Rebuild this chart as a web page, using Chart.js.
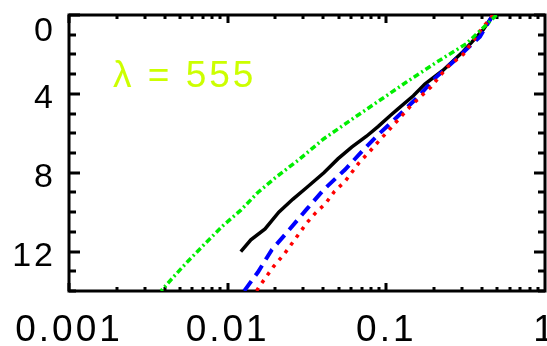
<!DOCTYPE html>
<html>
<head>
<meta charset="utf-8">
<script src="https://cdn.jsdelivr.net/npm/chart.js@4.4.1/dist/chart.umd.min.js"></script>
<style>
  html, body { margin: 0; padding: 0; background: #ffffff; }
  #wrap { width: 547px; height: 346px; }
</style>
</head>
<body>
<div id="wrap"><canvas id="c" width="547" height="346"></canvas></div>
<script>
// ---- data (x = value on log axis, y = depth, axis reversed) ----
const xTickValues = [0.001, 0.01, 0.1, 1];
const xTickLabels = ["0.001", "0.01", "0.1", "1"];
const yTickValues = [0, 4, 8, 12];
const yTickLabels = ["0", "4", "8", "12"];
const annotationText = "λ = 555";

const greenDepth = [0, 1.45, 2.4, 3.4, 4.3, 5.2, 6.3, 7.3, 8.25, 9.0, 9.9, 10.7, 11.55, 12.5, 13.25, 14];
const greenValue = [0.495, 0.32, 0.207, 0.134, 0.092, 0.063, 0.04, 0.0285, 0.02, 0.0155, 0.0121, 0.0093, 0.0073, 0.0056, 0.0046, 0.0038];

const blackDepth = [0, 0.75, 1.85, 2.8, 3.5, 4.1, 4.8, 5.1, 5.65, 6.15, 6.7, 7.3, 8.0, 8.75, 9.35, 10.0, 10.85, 11.4, 12.0];
const blackValue = [0.47, 0.408, 0.305, 0.228, 0.175, 0.148, 0.117, 0.106, 0.089, 0.075, 0.0605, 0.0495, 0.0404, 0.0315, 0.0257, 0.021, 0.0172, 0.014, 0.0121];

const blueDepth = [0, 1.1, 2.4, 3.15, 4.25, 5.2, 6.1, 6.9, 7.85, 8.85, 9.85, 10.9, 11.9, 13.05, 14];
const blueValue = [0.47, 0.389, 0.262, 0.206, 0.154, 0.116, 0.088, 0.0706, 0.0548, 0.0404, 0.0315, 0.0244, 0.019, 0.0155, 0.0127];

const redDepth = [0, 0.7, 2.0, 2.65, 3.65, 4.65, 5.65, 6.45, 6.9, 7.5, 8.45, 8.95, 9.55, 10.05, 10.55, 11.3, 12.15, 12.75, 13.25, 13.75, 14];
const redValue = [0.47, 0.40, 0.305, 0.242, 0.191, 0.141, 0.109, 0.0885, 0.079, 0.0672, 0.0548, 0.0471, 0.0415, 0.0357, 0.0315, 0.027, 0.0226, 0.0195, 0.0176, 0.0159, 0.0152];

function pts(xs, ys) { return xs.map((v, i) => ({ x: v, y: ys[i] })); }

const FONT = '"Liberation Sans", Arial, Helvetica, sans-serif';

const framePlugin = {
  id: 'idlFrame',
  beforeDatasetsDraw(chart) {
    const { ctx, chartArea: a, scales } = chart;
    const xs = scales.x, ys = scales.y;
    ctx.save();
    ctx.strokeStyle = '#000';
    ctx.lineWidth = 3;
    ctx.lineCap = 'butt';
    ctx.strokeRect(a.left, a.top, a.right - a.left, a.bottom - a.top);
    ctx.beginPath();
    for (let v = ys.min; v <= ys.max; v += 1) {
      const py = Math.round(ys.getPixelForValue(v));
      const len = (v % 4 === 0) ? 11 : 7;
      ctx.moveTo(a.left, py); ctx.lineTo(a.left + len, py);
      ctx.moveTo(a.right, py); ctx.lineTo(a.right - len, py);
    }
    for (let e = -3; e < 0; e++) {
      for (let k = 1; k <= 9; k++) {
        const v = k * Math.pow(10, e);
        const px = Math.round(xs.getPixelForValue(v));
        const len = (k === 1) ? 8 : 4;
        ctx.moveTo(px, a.bottom); ctx.lineTo(px, a.bottom - len);
        ctx.moveTo(px, a.top); ctx.lineTo(px, a.top + len);
      }
    }
    ctx.stroke();
    ctx.restore();
  },
  afterDraw(chart) {
    const { ctx, chartArea: a, scales } = chart;
    const xs = scales.x, ys = scales.y;
    ctx.save();
    ctx.fillStyle = '#000';
    ctx.font = '37px ' + FONT;
    ctx.letterSpacing = '3px';
    ctx.textAlign = 'center';
    ctx.textBaseline = 'alphabetic';
    xTickValues.forEach((v, i) => {
      const px = xs.getPixelForValue(v);
      ctx.fillText(xTickLabels[i], px, a.bottom + 50);
    });
    ctx.font = '34px ' + FONT;
    ctx.textAlign = 'right';
    const capH = 34 * 0.716;
    yTickValues.forEach((v, i) => {
      const py = ys.getPixelForValue(v);
      const base = Math.max(py + capH / 2 + 2, a.top + 2 + capH);
      ctx.fillText(yTickLabels[i], a.left - 13, base);
    });
    ctx.font = '37px ' + FONT;
    ctx.letterSpacing = '3px';
    ctx.textAlign = 'left';
    ctx.fillStyle = '#ccff00';
    ctx.fillText(annotationText, a.left + 44, a.top + 72);
    ctx.restore();
  }
};

new Chart(document.getElementById('c'), {
  type: 'scatter',
  data: {
    datasets: [
      { label: 'green', data: pts(greenValue, greenDepth), showLine: true, borderColor: '#00ee00', borderWidth: 3.5, borderDash: [6, 3, 2, 3], pointRadius: 0, fill: false },
      { label: 'red', data: pts(redValue, redDepth), showLine: true, borderColor: '#ff0000', borderWidth: 3.5, borderDash: [3.5, 6], pointRadius: 0, fill: false },
      { label: 'blue', data: pts(blueValue, blueDepth), showLine: true, borderColor: '#0000ff', borderWidth: 4, borderDash: [12, 7], pointRadius: 0, fill: false },
      { label: 'black', data: pts(blackValue, blackDepth), showLine: true, borderColor: '#000000', borderWidth: 3.5, pointRadius: 0, fill: false }
    ]
  },
  options: {
    responsive: false,
    animation: false,
    devicePixelRatio: 1,
    layout: { padding: { left: 69, right: 2, top: 15, bottom: 55 } },
    plugins: { legend: { display: false }, tooltip: { enabled: false } },
    scales: {
      x: { type: 'logarithmic', min: 0.001, max: 1, display: false },
      y: { type: 'linear', min: 0, max: 14, reverse: true, display: false }
    }
  },
  plugins: [framePlugin]
});
</script>
</body>
</html>
